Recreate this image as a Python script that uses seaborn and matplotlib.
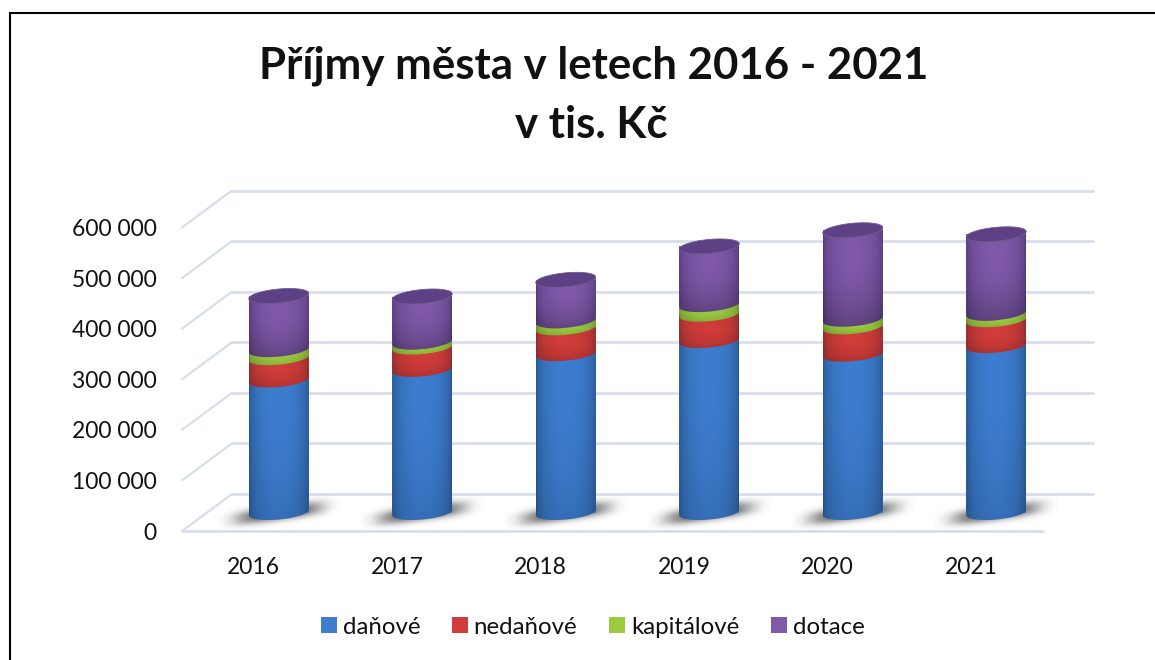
import numpy as np
import pandas as pd
import matplotlib
matplotlib.use('Agg')
import matplotlib.pyplot as plt
import seaborn as sns
from matplotlib.lines import Line2D
from matplotlib.patches import PathPatch
from matplotlib.path import Path
from matplotlib.colors import to_rgb
from matplotlib.transforms import Affine2D, IdentityTransform

# Hodnoty (tis. Kc)
years = ['2016', '2017', '2018', '2019', '2020', '2021']
danove = [262000, 283000, 314000, 340000, 313000, 330000]
nedanove = [44000, 44000, 51000, 52000, 54000, 51000]
kapitalove = [16000, 10000, 14000, 19000, 15000, 13000]
dotace = [106000, 90000, 81000, 115000, 176000, 156000]

series_names = ['daňové', 'nedaňové', 'kapitálové', 'dotace']
series_values = [danove, nedanove, kapitalove, dotace]
colors_mid = ['#3d7dd0', '#d23c3a', '#9ccb40', '#8059aa']
colors_edge = ['#27568f', '#8e2d2c', '#6a9330', '#543a78']
# kde je plast nejsvetlejsi a jak moc tmavne nahoru/dolu
shade_peak = [0.85, 0.55, 0.5, 0.7]
shade_drop = [0.12, 0.22, 0.25, 0.28]

y_ticks = [0, 100000, 200000, 300000, 400000, 500000, 600000]
y_labels = ['0', '100 000', '200 000', '300 000', '400 000', '500 000', '600 000']

sns.set_style('white')
plt.rcParams['font.family'] = ['Lato', 'DejaVu Sans']

W, H = 1155, 660
fig = plt.figure(figsize=(W / 100, H / 100), dpi=100)
ax = fig.add_axes([182 / W, (H - 531) / H, (1043 - 182) / W, 303.5 / H])

# Skladane sloupce: kumulativni soucty, nejvyssi vespod
df = pd.DataFrame(dict(zip(series_names, series_values)), index=years)
cum = df.cumsum(axis=1)
for i in range(3, -1, -1):
    sns.barplot(x=years, y=cum[series_names[i]].values, color=colors_mid[i], saturation=1,
                width=60 / 143.5, label=series_names[i], linewidth=0, ax=ax, zorder=3)

handles, labels = ax.get_legend_handles_labels()
if ax.get_legend() is not None:
    ax.get_legend().remove()

ax.set_xlim(-0.5, 5.5)
ax.set_ylim(0, 600000)
ax.set_yticks(y_ticks)
ax.set_yticklabels(y_labels)
ax.tick_params(axis='y', length=0, pad=18, labelsize=16.5, labelcolor='#111111')
ax.tick_params(axis='x', length=0, pad=19, labelsize=16.5, labelcolor='#111111')
sns.despine(ax=ax, left=True, bottom=True)
ax.patch.set_visible(False)

# Posuny rovin 3D: sloupce uprostred, mrizka vzadu
bar_tf = ax.transData + Affine2D().translate(25, 18.5)
back_tf = ax.transData + Affine2D().translate(50, 37)

grid_col = '#d9deec'
for v in y_ticks:
    ax.plot([-0.5, 5.5], [v, v], color=grid_col, lw=2, transform=back_tf, clip_on=False, zorder=1)
    p0 = ax.transData.transform((-0.5, v))
    ax.plot([p0[0], p0[0] + 50], [p0[1], p0[1] + 37], color=grid_col, lw=1.6,
            transform=IdentityTransform(), clip_on=False, zorder=1)
ax.plot([-0.5, 5.5], [0, 0], color=grid_col, lw=2, clip_on=False, zorder=1)

containers = list(ax.containers)[::-1]  # od spodni serie po horni
for cont in containers:
    for patch in cont:
        patch.set_transform(bar_tf)
        patch.set_clip_on(False)

B = 7     # polovysky elipsy
TILT = 0.09


def lower_curve(cx, a, y0, n=60):
    t = np.linspace(np.pi, 2 * np.pi, n)
    x = a * np.cos(t)
    return np.column_stack([cx + x, y0 + B * np.sin(t) + TILT * x])


def shade_image(i):
    # vodorovny gradient valce a svisle ztmavnuti v ramci segmentu
    u = np.linspace(-1, 1, 80)
    s = np.sqrt(1 - np.minimum(u ** 2, 1))
    v = np.linspace(0, 1, 40)
    p = shade_peak[i]
    vf = 1 - shade_drop[i] * ((v - p) / max(p, 1 - p)) ** 2
    mid, edge = np.array(to_rgb(colors_mid[i])), np.array(to_rgb(colors_edge[i]))
    img = edge[None, None, :] + (mid - edge)[None, None, :] * s[None, :, None]
    return np.clip(img * vf[:, None, None], 0, 1)


# Stiny na podlaze
first = containers[0]
for patch in first:
    x0, y0 = bar_tf.transform((patch.get_x() + patch.get_width() / 2, 0))
    xs = np.linspace(-62, 62, 125)
    ys = np.linspace(-22, 22, 45)
    gx, gy = np.meshgrid(xs, ys)
    al = np.exp(-np.abs(gx / 44) ** 4 - np.abs((gy - 0.14 * gx + 1) / 7.5) ** 2.4) * 0.8
    rgba = np.zeros((45, 125, 4)) + [0.28, 0.28, 0.28, 0]
    rgba[..., 3] = al
    ax.imshow(rgba, extent=(x0 - 62, x0 + 62, y0 - 22, y0 + 22), origin='lower', aspect='auto',
              transform=IdentityTransform(), zorder=2, clip_on=False, interpolation='bilinear')

# Plaste valcu a horni podstavy
for b in range(len(years)):
    bottom = 0
    for i, cont in enumerate(containers):
        patch = cont[b]
        top = patch.get_height()
        xm = patch.get_x() + patch.get_width() / 2
        cx, y_lo = bar_tf.transform((xm, bottom))
        _, y_hi = bar_tf.transform((xm, top))
        a = patch.get_width() * ax.transData.get_matrix()[0, 0] / 2
        lo = lower_curve(cx, a, y_lo)
        hi = lower_curve(cx, a, y_hi)[::-1]
        verts = np.vstack([lo, hi, lo[:1]])
        im = ax.imshow(shade_image(i), extent=(cx - a, cx + a, y_lo - 12, y_hi + 12), origin='lower',
                       aspect='auto', transform=IdentityTransform(), zorder=4 + i * 0.1,
                       interpolation='bilinear')
        im.set_clip_box(None)
        im.set_clip_path(Path(verts), IdentityTransform())
        bottom = top
    t = np.linspace(0, 2 * np.pi, 80)
    ex = a * np.cos(t)
    cap = np.column_stack([cx + ex, y_hi + B * np.sin(t) + TILT * ex])
    ax.add_patch(PathPatch(Path(cap), fc='#5e4085', ec='#6f5a92', lw=0.6, zorder=5,
                           transform=IdentityTransform(), clip_on=False))

ax.set_xlim(-0.5, 5.5)
ax.set_ylim(0, 600000)

# Legenda
fig.legend(handles[::-1], labels[::-1], ncol=4, loc='center', bbox_to_anchor=(592.5 / W, (H - 627) / H),
           frameon=False, fontsize=17.3, handlelength=0.67, handleheight=0.67, handletextpad=0.25,
           columnspacing=1.31, labelcolor='#111111')

# Nadpis
fig.text(594 / W, (H - 66) / H, 'Příjmy města v letech 2016 - 2021', ha='center', va='center',
         fontsize=31.5, fontweight='bold', color='#111111')
fig.text(591 / W, (H - 125) / H, 'v tis. Kč', ha='center', va='center',
         fontsize=31.5, fontweight='bold', color='#111111')

# Ramecek jen vlevo a nahore
fig.add_artist(Line2D([10 / W, 10 / W, 1], [0, (H - 12.7) / H, (H - 12.7) / H], color='black', lw=1.5,
                      solid_joinstyle='miter'))

fig.savefig('out.png', dpi=100, facecolor='white')
plt.close(fig)
